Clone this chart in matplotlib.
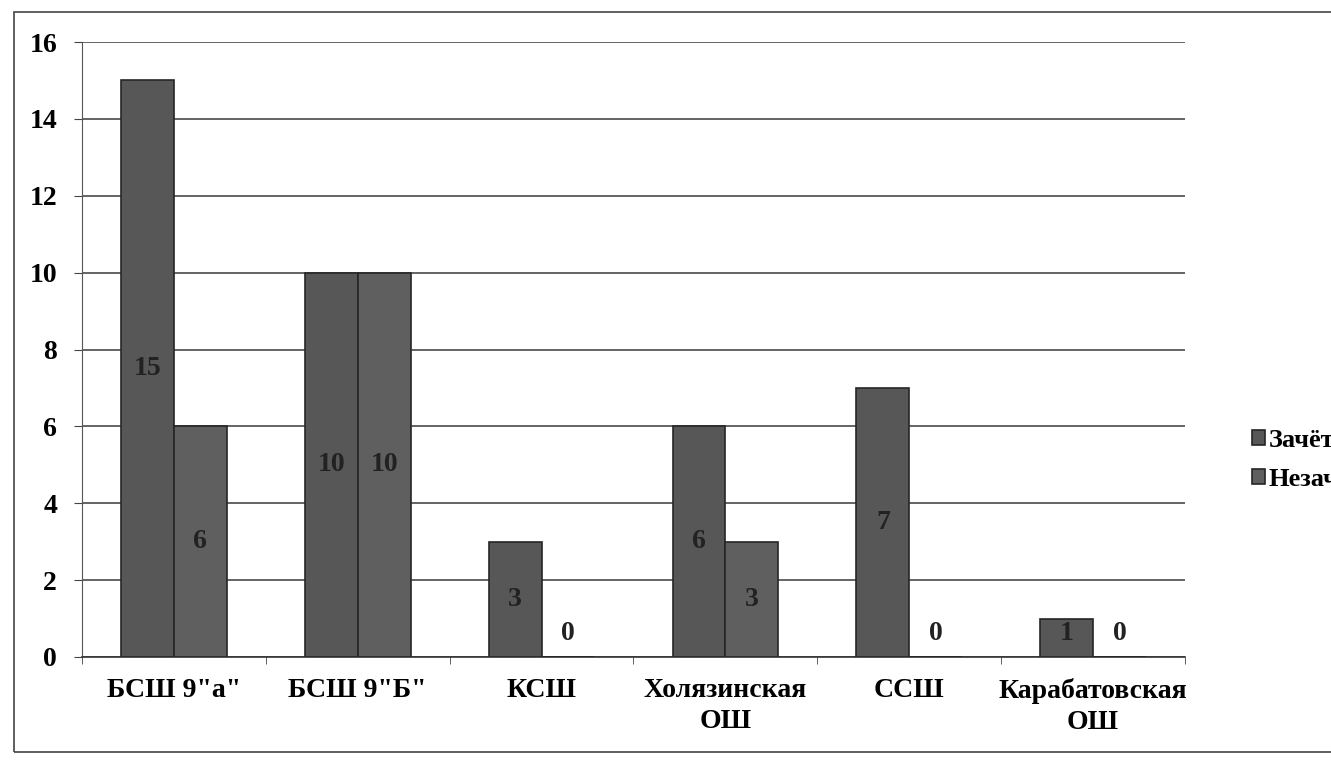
import matplotlib.pyplot as plt
import numpy as np
from matplotlib.patches import Rectangle

# data
schools = ['БСШ 9"а"', 'БСШ 9"Б"', 'КСШ', 'Холязинская\nОШ', 'ССШ', 'Карабатовская\nОШ']
passed = [15, 10, 3, 6, 7, 1]      # Зачёт
failed = [6, 10, 0, 3, 0, 0]       # Незачёт
yticks = [0, 2, 4, 6, 8, 10, 12, 14, 16]

plt.rcParams['font.family'] = ['Liberation Serif', 'DejaVu Serif']
plt.rcParams['font.weight'] = 'bold'

W, H = 1331, 760
fig = plt.figure(figsize=(W / 100, H / 100), dpi=100)
ax = fig.add_axes([82 / W, (H - 657) / H, (1185 - 82) / W, (657 - 42) / H])

x = np.arange(len(schools))
bw = 0.287
b1 = ax.bar(x - bw / 2, passed, bw, color='#575757', edgecolor='#262626', linewidth=1.2, zorder=3)
b2 = ax.bar(x + bw / 2, failed, bw, color='#5f5f5f', edgecolor='#262626', linewidth=1.2, zorder=3)

# value labels in the middle of each bar (zeros sit just above the axis)
for bars, vals in ((b1, passed), (b2, failed)):
    for rect, v in zip(bars, vals):
        ax.text(rect.get_x() + rect.get_width() / 2, max(v / 2, 0.6), str(v),
                ha='center', va='center', fontsize=20, fontweight='bold',
                color='#222222', zorder=4)

ax.set_xlim(-0.5, len(schools) - 0.5)
ax.set_ylim(0, 16)
ax.set_yticks(yticks)
ax.yaxis.grid(True, color='#3a3a3a', linewidth=1.1, zorder=0)
ax.set_axisbelow(True)

ax.set_xticks(x)
ax.set_xticklabels(schools, fontsize=20, fontweight='bold', linespacing=1.35)
ax.set_xticks(np.arange(len(schools) + 1) - 0.5, minor=True)
ax.tick_params(axis='x', which='major', length=0, pad=15)
ax.tick_params(axis='x', which='minor', length=5, color='#444444')
ax.tick_params(axis='y', length=6, pad=12, labelsize=20, color='#444444')
for lab in ax.get_yticklabels():
    lab.set_fontweight('bold')

for s in ('top', 'right'):
    ax.spines[s].set_visible(False)
ax.spines['left'].set_color('#555555')
ax.spines['bottom'].set_color('#333333')
ax.spines['bottom'].set_linewidth(1.2)

# legend, clipped by the right edge like in the scan
fig.legend([b1, b2], ['Зачёт', 'Незачёт'], loc='upper left',
           bbox_to_anchor=(1228 / W, (H - 405) / H), frameon=False,
           prop={'size': 19, 'weight': 'bold'}, handlelength=0.5, handleheight=0.5,
           handletextpad=0.15, labelspacing=0.6)

# outer chart frame
fig.patches.append(Rectangle((14 / W, (H - 752) / H), 1.0, (752 - 12) / H,
                             transform=fig.transFigure, fill=False,
                             edgecolor='#444444', linewidth=1.2))

fig.savefig('out.png', dpi=100)
